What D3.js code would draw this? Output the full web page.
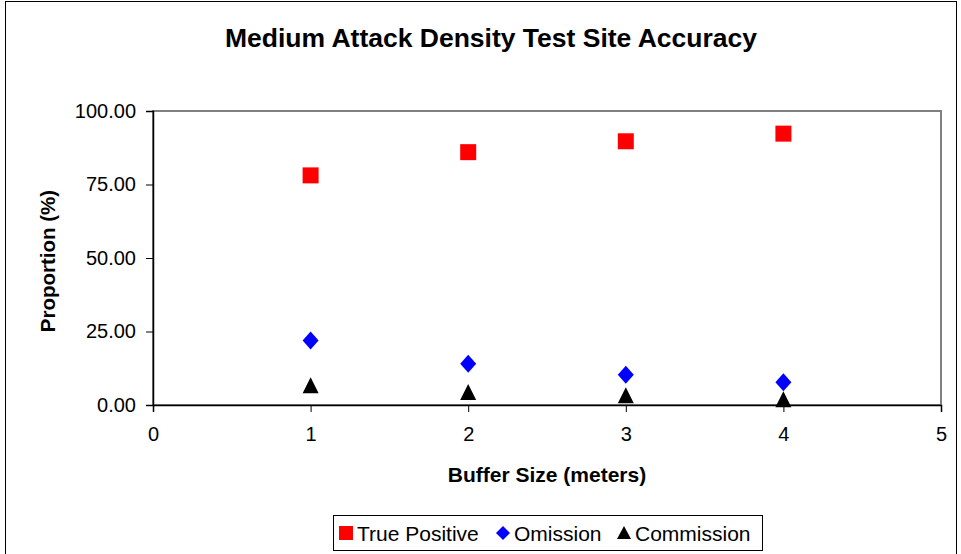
<!DOCTYPE html>
<html>
<head>
<meta charset="utf-8">
<script src="https://cdn.jsdelivr.net/npm/d3@7"></script>
<style>
  body { margin: 0; background: #fff; }
  text { font-family: "Liberation Sans", Arial, sans-serif; }
</style>
</head>
<body>
<div id="chart"></div>
<script>
// Data
const bufferSizes = [1, 2, 3, 4];
const truePositive = [78.1, 86.0, 89.7, 92.3];
const omission = [21.9, 14.0, 10.3, 7.7];
const commission = [6.4, 4.1, 3.0, 1.6];
const yTicks = [0, 25, 50, 75, 100];
const xTicks = [0, 1, 2, 3, 4, 5];

const width = 961, height = 554;
const plot = {left: 153, top: 111, right: 941, bottom: 405};

let svg = d3.select("#chart")
    .append("svg")
    .attr("width", width)
    .attr("height", height);

// outer chart frame
svg.append("rect")
    .attr("x", 5.5).attr("y", 1.5)
    .attr("width", 951).attr("height", 560)
    .style("fill", "none").style("stroke", "#000");

let x = d3.scaleLinear().domain([0, 5]).range([plot.left, plot.right]);
let y = d3.scaleLinear().domain([0, 100]).range([plot.bottom, plot.top]);

// plot area frame (gray)
svg.append("rect")
    .attr("x", plot.left).attr("y", plot.top)
    .attr("width", plot.right - plot.left).attr("height", plot.bottom - plot.top)
    .style("fill", "none").style("stroke", "#808080").style("stroke-width", 2);

// axes
let yAxis = svg.append("g")
    .attr("transform", `translate(${plot.left},0)`)
    .call(d3.axisLeft(y).tickValues(yTicks).tickSize(7).tickPadding(10)
        .tickFormat(d3.format(".2f")));
let xAxis = svg.append("g")
    .attr("transform", `translate(0,${plot.bottom})`)
    .call(d3.axisBottom(x).tickValues(xTicks).tickSize(7).tickPadding(15)
        .tickFormat(d3.format("d")));
[xAxis, yAxis].forEach(g => {
    g.select(".domain").style("stroke", "#000").style("stroke-width", 1.5);
    g.selectAll(".tick line").style("stroke", "#000");
    g.selectAll("text").style("font-size", "20px").style("fill", "#000")
        .style("font-family", "'Liberation Sans', Arial, sans-serif");
});

// title + axis titles
svg.append("text")
    .attr("x", 491).attr("y", 47)
    .style("text-anchor", "middle")
    .style("font-size", "26.5px").style("font-weight", "bold")
    .text("Medium Attack Density Test Site Accuracy");

svg.append("text")
    .attr("x", 547).attr("y", 482)
    .style("text-anchor", "middle")
    .style("font-size", "21px").style("font-weight", "bold")
    .text("Buffer Size (meters)");

svg.append("text")
    .attr("transform", `translate(55, 261) rotate(-90)`)
    .style("text-anchor", "middle")
    .style("font-size", "20.5px").style("font-weight", "bold")
    .text("Proportion (%)");

// series
const series = [
    {name: "True Positive", values: truePositive, color: "#ff0000", shape: "square"},
    {name: "Omission", values: omission, color: "#0000ff", shape: "diamond"},
    {name: "Commission", values: commission, color: "#000000", shape: "triangle"}
];

function markerPath(shape) {
    if (shape === "square") return "M-8,-8H8V8H-8Z";
    if (shape === "diamond") return "M0,-9L8,0L0,9L-8,0Z";
    return "M0,-9L8,7H-8Z";
}

series.forEach(s => {
    svg.selectAll(null)
        .data(bufferSizes)
        .enter()
        .append("path")
        .attr("d", markerPath(s.shape))
        .attr("transform", (d, i) => `translate(${x(d)},${y(s.values[i])})`)
        .style("fill", s.color);
});

// legend
let legend = svg.append("g");
legend.append("rect")
    .attr("x", 333.5).attr("y", 515.5)
    .attr("width", 429).attr("height", 35)
    .style("fill", "#fff").style("stroke", "#000");

const legendX = [339, 496, 617];
series.forEach((s, i) => {
    let g = legend.append("g").attr("transform", `translate(${legendX[i]},533)`);
    g.append("path")
        .attr("d", s.shape === "square" ? "M0,-7H14V7H0Z"
            : s.shape === "diamond" ? "M7,-7L14,0L7,7L0,0Z" : "M7,-7L14,6H0Z")
        .style("fill", s.color);
    g.append("text")
        .attr("x", 18).attr("y", 8)
        .style("font-size", "21px")
        .text(s.name);
});
</script>
</body>
</html>
